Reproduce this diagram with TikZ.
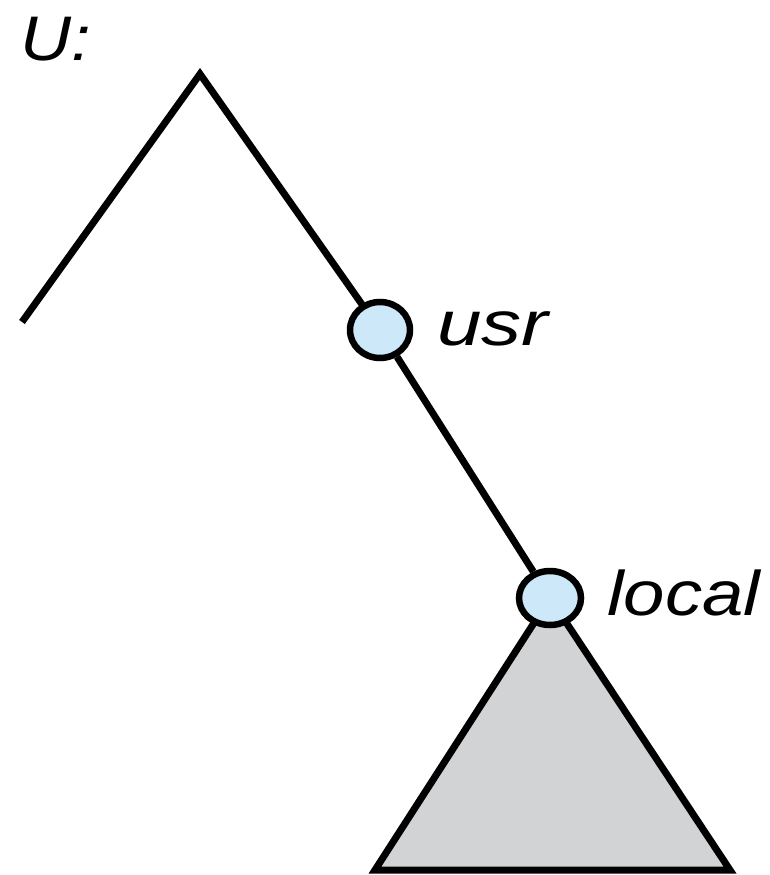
\documentclass[tikz,border=0pt]{standalone}
\usepackage{fontspec}
\setmainfont{Liberation Sans}
\usetikzlibrary{shapes.geometric}
\definecolor{dirblue}{RGB}{204,232,249}
\definecolor{treegray}{RGB}{209,211,212}
\tikzset{
  edge/.style={line width=7pt, black},
  dirnode/.style={ellipse, draw=black, line width=6.5pt, fill=dirblue, inner sep=0pt},
  lbl/.style={anchor=base west, inner sep=0pt, font=\fontsize{63}{63}\selectfont\itshape}
}
\begin{document}
\begin{tikzpicture}[x=1pt,y=-1pt]
\useasboundingbox (0,0) rectangle (770,875);
\coordinate (apex) at (200,74);
\coordinate (leftend) at (22,322);
\coordinate (localc) at (550,598);
\coordinate (bl) at (375,870);
\coordinate (br) at (730,870);
\node[lbl] (U) at (20,60) {\scalebox{1.12}[1]{U:}};
\draw[edge, line join=miter] (leftend) -- (apex) -- (380,330);
\fill[treegray] (localc) -- (bl) -- (br) -- cycle;
\draw[edge, line join=miter] (localc) -- (bl) -- (br) -- cycle;
\node[dirnode, minimum width=60pt, minimum height=56pt] (usr) at (380,330) {};
\node[dirnode, minimum width=62pt, minimum height=54pt] (local) at (localc) {};
\draw[edge] (usr) -- (local);
\node[lbl] (usrlbl) at (437,345) {\scalebox{1.27}[1]{usr}};
\node[lbl] (locallbl) at (607,615) {\scalebox{1.18}[1]{local}};
\end{tikzpicture}
\end{document}
